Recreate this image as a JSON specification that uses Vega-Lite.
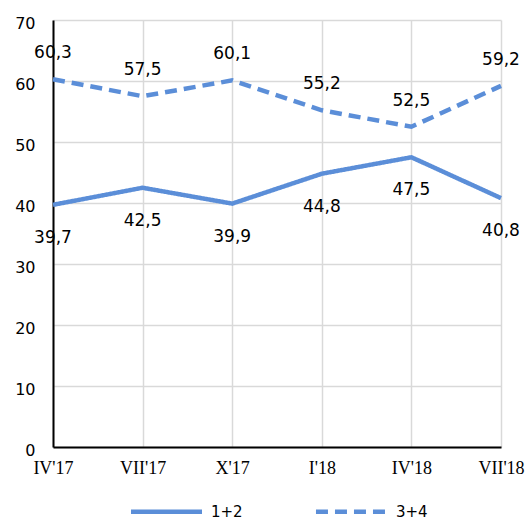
{
  "$schema": "https://vega.github.io/schema/vega-lite/v6.json",
  "width": 448,
  "height": 427,
  "autosize": {"type": "none"},
  "padding": {"left": 53, "top": 20, "right": 30, "bottom": 72},
  "background": "white",
  "config": {
    "view": {"stroke": null},
    "font": "DejaVu Sans"
  },
  "data": {
    "values": [
      {"period": "IV'17", "series": "1+2", "value": 39.7, "label": "39,7"},
      {"period": "VII'17", "series": "1+2", "value": 42.5, "label": "42,5"},
      {"period": "X'17", "series": "1+2", "value": 39.9, "label": "39,9"},
      {"period": "I'18", "series": "1+2", "value": 44.8, "label": "44,8"},
      {"period": "IV'18", "series": "1+2", "value": 47.5, "label": "47,5"},
      {"period": "VII'18", "series": "1+2", "value": 40.8, "label": "40,8"},
      {"period": "IV'17", "series": "3+4", "value": 60.3, "label": "60,3"},
      {"period": "VII'17", "series": "3+4", "value": 57.5, "label": "57,5"},
      {"period": "X'17", "series": "3+4", "value": 60.1, "label": "60,1"},
      {"period": "I'18", "series": "3+4", "value": 55.2, "label": "55,2"},
      {"period": "IV'18", "series": "3+4", "value": 52.5, "label": "52,5"},
      {"period": "VII'18", "series": "3+4", "value": 59.2, "label": "59,2"}
    ]
  },
  "encoding": {
    "x": {
      "field": "period",
      "type": "ordinal",
      "sort": ["IV'17", "VII'17", "X'17", "I'18", "IV'18", "VII'18"],
      "scale": {"type": "point", "padding": 0},
      "axis": {
        "title": null,
        "labelAngle": 0,
        "labelFont": "Liberation Serif",
        "labelFontSize": 18,
        "labelColor": "#000000",
        "labelPadding": 12,
        "labelBaseline": "top",
        "ticks": false,
        "domainColor": "#000000",
        "domainWidth": 2,
        "grid": true,
        "gridColor": "#d9d9d9",
        "gridWidth": 1.5,
        "zindex": 0
      }
    },
    "y": {
      "field": "value",
      "type": "quantitative",
      "scale": {"domain": [0, 70], "nice": false},
      "axis": {
        "title": null,
        "values": [0, 10, 20, 30, 40, 50, 60, 70],
        "labelFont": "DejaVu Sans",
        "labelFontSize": 16,
        "labelColor": "#000000",
        "labelPadding": 18,
        "labelOffset": 3,
        "ticks": false,
        "domainColor": "#000000",
        "domainWidth": 2,
        "gridColor": "#d9d9d9",
        "gridWidth": 1.5,
        "zindex": 0
      }
    }
  },
  "layer": [
    {
      "mark": {"type": "line", "color": "#5b8ed8", "strokeWidth": 4.5},
      "encoding": {
        "detail": {"field": "series"},
        "strokeDash": {
          "field": "series",
          "type": "nominal",
          "scale": {"domain": ["1+2", "3+4"], "range": [[1, 0], [12, 7]]},
          "legend": {
            "title": null,
            "orient": "none",
            "direction": "horizontal",
            "legendX": 101,
            "legendY": 479,
            "padding": 0,
            "symbolType": "M-3.5,0L3.5,0",
            "symbolSize": 412,
            "symbolStrokeWidth": 4.5,
            "symbolStrokeColor": "#5b8ed8",
            "symbolFillColor": "transparent",
            "labelFont": "DejaVu Sans",
            "labelFontSize": 15,
            "labelColor": "#000000",
            "labelOffset": 32,
            "columnPadding": 63
          }
        }
      }
    },
    {
      "transform": [{"filter": "datum.series === '3+4'"}],
      "mark": {"type": "text", "dy": -26, "fontSize": 17, "font": "DejaVu Sans", "color": "#000000", "baseline": "middle"},
      "encoding": {"text": {"field": "label"}}
    },
    {
      "transform": [{"filter": "datum.series === '1+2'"}],
      "mark": {"type": "text", "dy": 33, "fontSize": 17, "font": "DejaVu Sans", "color": "#000000", "baseline": "middle"},
      "encoding": {"text": {"field": "label"}}
    }
  ]
}
